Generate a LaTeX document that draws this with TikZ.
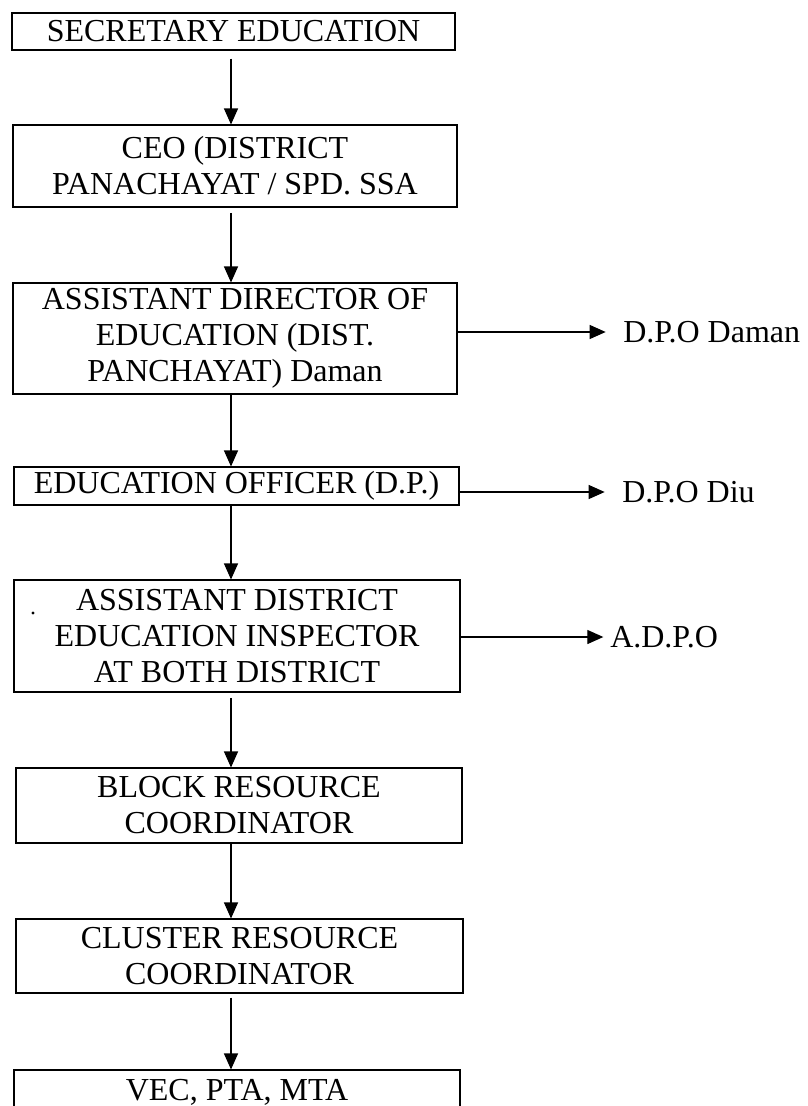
\documentclass[tikz,border=0pt]{standalone}
\usepackage{fontspec}
\setmainfont{Liberation Serif}
\usetikzlibrary{arrows.meta}
\begin{document}
\begin{tikzpicture}[x=0.75pt,y=-0.75pt,
  box/.style={draw=black,line width=0.8pt,rectangle,inner sep=0pt,align=center,
    font=\fontsize{24}{27}\selectfont},
  lbl/.style={inner sep=0pt,anchor=west,font=\fontsize{24}{27}\selectfont},
  arr/.style={line width=0.9pt,-{Triangle[length=12pt,width=10.5pt]}}]
\useasboundingbox (0,0) rectangle (807,1106);
\node[box,minimum width=332.25pt,minimum height=27.75pt] (b1) at (233.5,31.5) {SECRETARY EDUCATION};
\node[box,minimum width=333pt,minimum height=61.5pt] (b2) at (235,166) {CEO (DISTRICT\\PANACHAYAT / SPD. SSA};
\node[box,minimum width=333pt,minimum height=83.25pt] (b3) at (235,338.5) {ASSISTANT DIRECTOR OF\\EDUCATION (DIST.\\PANCHAYAT) Daman};
\node[box,minimum width=333.75pt,minimum height=28.5pt] (b4) at (236.5,486) {EDUCATION OFFICER (D.P.)};
\node[box,minimum width=334.5pt,minimum height=84pt] (b5) at (237,636) {ASSISTANT DISTRICT\\EDUCATION INSPECTOR\\AT BOTH DISTRICT};
\node[box,minimum width=334.5pt,minimum height=56.25pt] (b6) at (239,805.5) {BLOCK RESOURCE\\COORDINATOR};
\node[box,minimum width=335.25pt,minimum height=55.5pt] (b7) at (239.5,956) {CLUSTER RESOURCE\\COORDINATOR};
\node[box,minimum width=334.5pt,minimum height=33pt] (b8) at (237,1092) {VEC, PTA, MTA};

\node[lbl] (t1) at (623,332) {D.P.O Daman};
\node[lbl] (t2) at (622,492) {D.P.O Diu};
\node[lbl] (t3) at (610,637) {A.D.P.O};

\coordinate (ax) at (231,0);
\draw[arr,shorten <=6pt] (b1.south -| ax) -- (b2.north -| ax);
\draw[arr,shorten <=4pt] (b2.south -| ax) -- (b3.north -| ax);
\draw[arr] (b3.south -| ax) -- (b4.north -| ax);
\draw[arr] (b4.south -| ax) -- (b5.north -| ax);
\draw[arr,shorten <=4pt] (b5.south -| ax) -- (b6.north -| ax);
\draw[arr] (b6.south -| ax) -- (b7.north -| ax);
\draw[arr,shorten <=3pt] (b7.south -| ax) -- (b8.north -| ax);

\draw[arr,shorten >=13pt] (b3.east |- t1) -- (t1.west);
\draw[arr,shorten >=13pt] (b4.east |- t2) -- (t2.west);
\draw[arr,shorten >=5pt] (b5.east |- t3) -- (t3.west);

\fill (33,613) circle (1.2pt);
\end{tikzpicture}
\end{document}
